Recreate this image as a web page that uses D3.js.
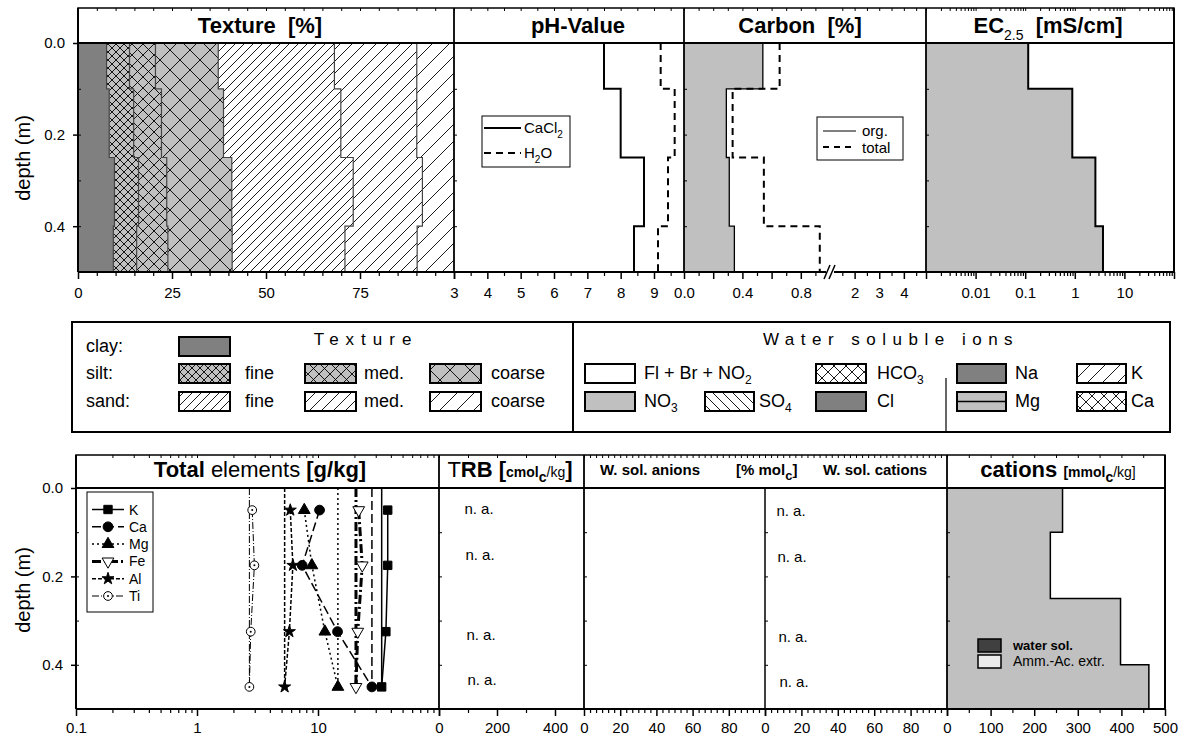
<!DOCTYPE html>
<html>
<head>
<meta charset="utf-8">
<script src="https://cdn.jsdelivr.net/npm/d3@7"></script>
<style>
  body { margin: 0; background: #fff; }
  svg { font-family: "Liberation Sans", Arial, sans-serif; }
  text { white-space: pre; }
</style>
</head>
<body>
<div id="chart"></div>
<script>
// ---- data ----
// soil layers (m)
const layerTops = [0, 0.1, 0.25, 0.4];
const layerBottoms = [0.1, 0.25, 0.4, 0.5];
const sampleDepths = [0.05, 0.175, 0.325, 0.45];

// texture (%) per layer
const textureKeys = ['clay', 'siltFine', 'siltMed', 'siltCoarse', 'sandFine', 'sandMed', 'sandCoarse'];
const clay = [7.6, 8.3, 9.7, 9.4];
const siltFine = [6.1, 6.5, 6.4, 6.2];
const siltMed = [6.9, 7.4, 7.5, 8.3];
const siltCoarse = [16.7, 16.5, 17.3, 17.1];
const sandFine = [30.9, 31.2, 32.3, 30.0];
const sandMed = [21.9, 20.2, 18.4, 19.2];
const sandCoarse = [9.9, 9.9, 8.4, 9.8];

// pH
const phCaCl2 = [7.5, 8.0, 8.7, 8.4];
const phH2O = [9.2, 9.62, 9.42, 9.12];

// carbon (%)
const carbonOrg = [0.54, 0.29, 0.31, 0.345];
const carbonTotal = [0.655, 0.333, 0.547, 0.93];

// EC 2.5 (mS/cm)
const ecValues = [0.115, 0.89, 2.6, 3.7];

// total elements (g/kg) at sample depths
const elementNames = ['K', 'Ca', 'Mg', 'Fe', 'Al', 'Ti'];
const elK = [37.7, 37.7, 36.4, 33.6];
const elCa = [10.3, 7.4, 14.5, 27.9];
const elMg = [7.7, 8.9, 11.4, 14.6];
const elFe = [21.7, 23.2, 21.3, 20.6];
const elAl = [5.9, 6.2, 5.8, 5.3];
const elTi = [2.86, 2.98, 2.78, 2.71];

// cations (mmolc/kg), ammonium acetate extract
const catAmmAc = [265, 237, 398, 463];

// "n. a." annotations (depth in m)
const naDepths = [0.048, 0.152, 0.333, 0.435];

// ---- setup ----
const width = 1183;
const height = 740;
const svg = d3.select('#chart').append('svg')
	.attr('width', width)
	.attr('height', height)
	.attr('viewBox', [0, 0, width, height]);
const defs = svg.append('defs');

function addPattern(id, size, bg, type) {
	const s = size;
	const p = defs.append('pattern')
		.attr('id', id)
		.attr('patternUnits', 'userSpaceOnUse')
		.attr('width', s)
		.attr('height', s);
	p.append('rect').attr('width', s).attr('height', s).attr('fill', bg);
	const up = `M${-s / 4},${s / 4}L${s / 4},${-s / 4}M0,${s}L${s},0M${(3 * s) / 4},${(5 * s) / 4}L${(5 * s) / 4},${(3 * s) / 4}`;
	const down = `M${-s / 4},${(3 * s) / 4}L${s / 4},${(5 * s) / 4}M0,0L${s},${s}M${(3 * s) / 4},${-s / 4}L${(5 * s) / 4},${s / 4}`;
	let d = '';
	if (type === 'up') d = up;
	else if (type === 'down') d = down;
	else d = up + down;
	p.append('path').attr('d', d).attr('stroke', '#000').attr('stroke-width', 0.9).attr('fill', 'none');
}
addPattern('siltFine', 8, '#c0c0c0', 'cross');
addPattern('siltMed', 11, '#c0c0c0', 'cross');
addPattern('siltCoarse', 20, '#c0c0c0', 'cross');
addPattern('sandFine', 9, '#fff', 'up');
addPattern('sandMed', 12, '#fff', 'up');
addPattern('sandCoarse', 17, '#fff', 'up');
addPattern('whiteCross', 12, '#fff', 'cross');
addPattern('whiteDown', 10, '#fff', 'down');
addPattern('whiteUp', 15, '#fff', 'up');

const texFill = {
	clay: '#808080',
	siltFine: 'url(#siltFine)',
	siltMed: 'url(#siltMed)',
	siltCoarse: 'url(#siltCoarse)',
	sandFine: 'url(#sandFine)',
	sandMed: 'url(#sandMed)',
	sandCoarse: 'url(#sandCoarse)',
};

function stepPoints(values) {
	return values.flatMap((v, i) => [
		{ v, depth: layerTops[i] },
		{ v, depth: layerBottoms[i] },
	]);
}

function logMinor(lo, hi) {
	const out = [];
	for (let e = lo; e < hi; e++) {
		for (let k = 2; k <= 9; k++) out.push(k * Math.pow(10, e));
	}
	return out;
}

// bottom axis with major + minor ticks, and small ticks mirrored on title top
function xAxis(scale, major, minor, fmt, yAxis, yTop, pad) {
	const gMin = svg.append('g').attr('transform', `translate(0,${yAxis})`)
		.call(d3.axisBottom(scale).tickValues(minor).tickSize(4).tickFormat(''));
	gMin.select('.domain').remove();
	const gMaj = svg.append('g').attr('transform', `translate(0,${yAxis})`)
		.call(d3.axisBottom(scale).tickValues(major).tickSize(7).tickPadding(pad).tickFormat(fmt));
	gMaj.select('.domain').remove();
	gMaj.attr('font-family', null).attr('font-size', 15);
	gMaj.selectAll('line').attr('stroke-width', 1.5);
	gMin.selectAll('line').attr('stroke-width', 1.2);
	const gTop = svg.append('g').attr('transform', `translate(0,${yTop})`)
		.call(d3.axisTop(scale).tickValues(major.concat(minor)).tickSize(-3).tickFormat(''));
	gTop.select('.domain').remove();
}

function depthAxis(sy, x0, panelEdges) {
	const g = svg.append('g').attr('transform', `translate(${x0},0)`)
		.call(d3.axisLeft(sy).tickValues([0, 0.2, 0.4]).tickSize(5).tickPadding(8).tickFormat(d3.format('.1f')));
	g.select('.domain').remove();
	g.attr('font-family', null).attr('font-size', 15);
	g.selectAll('line').attr('stroke-width', 1.5);
	panelEdges.forEach((x) => {
		const t = svg.append('g').attr('transform', `translate(${x},0)`)
			.call(d3.axisRight(sy).tickValues([0.1, 0.2, 0.3, 0.4]).tickSize(3).tickFormat(''));
		t.select('.domain').remove();
	});
}

function frameLine(x1, y1, x2, y2, w) {
	svg.append('line').attr('x1', x1).attr('y1', y1).attr('x2', x2).attr('y2', y2)
		.attr('stroke', '#000').attr('stroke-width', w || 2);
}

// ================= TOP ROW =================
const topY = d3.scaleLinear().domain([0, 0.5]).range([43, 272]);
const texX = d3.scaleLinear().domain([0, 100]).range([78, 454]);
const phX = d3.scaleLinear().domain([3, 9.9]).range([454, 684]);
const cX = d3.scaleLinear().domain([0, 1, 4.9]).range([684, 830, 926]);
const ecX = d3.scaleLog().domain([0.001, 100]).range([926, 1174]);

// texture
const texRows = layerTops.map((t, i) => ({
	top: t,
	bottom: layerBottoms[i],
	clay: clay[i],
	siltFine: siltFine[i],
	siltMed: siltMed[i],
	siltCoarse: siltCoarse[i],
	sandFine: sandFine[i],
	sandMed: sandMed[i],
	sandCoarse: sandCoarse[i],
}));
const texStack = d3.stack().keys(textureKeys)(texRows);
const texArea = d3.area()
	.y((p) => topY(p.depth))
	.x0((p) => texX(p.lo))
	.x1((p) => texX(p.hi));
const texPts = (s) => s.flatMap((d) => [
	{ depth: d.data.top, lo: d[0], hi: d[1] },
	{ depth: d.data.bottom, lo: d[0], hi: d[1] },
]);
svg.append('g').selectAll('path')
	.data(texStack)
	.join('path')
	.attr('d', (s) => texArea(texPts(s)))
	.attr('fill', (s) => texFill[s.key]);
svg.append('g').selectAll('path')
	.data(texStack.slice(0, -1))
	.join('path')
	.attr('d', (s) => d3.line().x((p) => texX(p.hi)).y((p) => topY(p.depth))(texPts(s)))
	.attr('fill', 'none')
	.attr('stroke', '#444')
	.attr('stroke-width', 1.2);

// pH
const phLine = d3.line().x((p) => phX(p.v)).y((p) => topY(p.depth));
svg.append('path').attr('d', phLine(stepPoints(phCaCl2)))
	.attr('fill', 'none').attr('stroke', '#000').attr('stroke-width', 2);
svg.append('path').attr('d', phLine(stepPoints(phH2O)))
	.attr('fill', 'none').attr('stroke', '#000').attr('stroke-width', 2).attr('stroke-dasharray', '7,5');

// carbon
const cArea = d3.area().y((p) => topY(p.depth)).x0(cX(0)).x1((p) => cX(p.v));
const cLine = d3.line().x((p) => cX(p.v)).y((p) => topY(p.depth));
svg.append('path').attr('d', cArea(stepPoints(carbonOrg))).attr('fill', '#c0c0c0');
svg.append('path').attr('d', cLine(stepPoints(carbonOrg)))
	.attr('fill', 'none').attr('stroke', '#000').attr('stroke-width', 1.3);
svg.append('path').attr('d', cLine(stepPoints(carbonTotal)))
	.attr('fill', 'none').attr('stroke', '#000').attr('stroke-width', 2).attr('stroke-dasharray', '7,5');

// EC
const ecArea = d3.area().y((p) => topY(p.depth)).x0(ecX(0.001)).x1((p) => ecX(p.v));
const ecLine = d3.line().x((p) => ecX(p.v)).y((p) => topY(p.depth));
svg.append('path').attr('d', ecArea(stepPoints(ecValues))).attr('fill', '#c0c0c0');
svg.append('path').attr('d', ecLine(stepPoints(ecValues)))
	.attr('fill', 'none').attr('stroke', '#000').attr('stroke-width', 2);

// top frames
svg.append('rect').attr('x', 78).attr('y', 8).attr('width', 1174 - 78).attr('height', 35)
	.attr('fill', '#fff').attr('stroke', '#000').attr('stroke-width', 1.5);
frameLine(78, 43, 1174, 43);
frameLine(78, 272, 1174, 272);
frameLine(78, 8, 78, 272);
frameLine(1174, 8, 1174, 272);
[454, 684, 926].forEach((x) => frameLine(x, 8, x, 272, 1.8));

// top axes
xAxis(texX, [0, 25, 50, 75, 100], d3.range(5, 100, 5).filter((d) => d % 25), (d) => (d === 100 ? '' : d), 272, 8, 8);
xAxis(phX, [3, 4, 5, 6, 7, 8, 9], d3.range(3.5, 9.6, 1), (d) => d, 272, 8, 8);
xAxis(cX, [0, 0.2, 0.4, 0.6, 0.8, 2, 3, 4], [0.1, 0.3, 0.5, 0.7, 0.9, 1.5, 2.5, 3.5, 4.5],
	(d) => ([0, 0.4, 0.8].includes(d) ? d3.format('.1f')(d) : d >= 2 ? d : ''), 272, 8, 8);
xAxis(ecX, [0.001, 0.01, 0.1, 1, 10, 100], logMinor(-3, 2),
	(d) => ([0.01, 0.1, 1, 10].includes(d) ? d : ''), 272, 8, 8);
depthAxis(topY, 78, [78, 454, 684, 926]);

// axis break on carbon
svg.append('rect').attr('x', 826).attr('y', 268).attr('width', 8).attr('height', 8).attr('fill', '#fff');
svg.append('path').attr('d', 'M824,279L830,265M829,279L835,265')
	.attr('stroke', '#000').attr('stroke-width', 1.5).attr('fill', 'none');

// top titles
const titleStyle = (t) => t.attr('font-size', 22).attr('font-weight', 'bold').attr('text-anchor', 'middle');
svg.append('text').attr('x', 260).attr('y', 33).call(titleStyle).text('Texture  [%]');
svg.append('text').attr('x', 578).attr('y', 33).call(titleStyle).text('pH-Value');
svg.append('text').attr('x', 800).attr('y', 33).call(titleStyle).text('Carbon  [%]');
const ecTitle = svg.append('text').attr('x', 1048).attr('y', 33).call(titleStyle);
ecTitle.append('tspan').text('EC');
ecTitle.append('tspan').attr('font-size', 14).attr('font-weight', 'normal').attr('dy', 7).text('2.5');
ecTitle.append('tspan').attr('dy', -7).text('  [mS/cm]');

svg.append('text')
	.attr('transform', 'translate(30,158) rotate(-90)')
	.attr('text-anchor', 'middle')
	.attr('font-size', 20)
	.text('depth (m)');

// pH legend
svg.append('rect').attr('x', 482).attr('y', 116).attr('width', 88).attr('height', 51)
	.attr('fill', '#fff').attr('stroke', '#000').attr('stroke-width', 1);
frameLine(484, 128, 521, 128, 2);
svg.append('line').attr('x1', 484).attr('y1', 153).attr('x2', 521).attr('y2', 153)
	.attr('stroke', '#000').attr('stroke-width', 2).attr('stroke-dasharray', '7,5');
const phL1 = svg.append('text').attr('x', 524).attr('y', 133).attr('font-size', 15);
phL1.append('tspan').text('CaCl');
phL1.append('tspan').attr('font-size', 10).attr('dy', 5).text('2');
const phL2 = svg.append('text').attr('x', 524).attr('y', 158).attr('font-size', 15);
phL2.append('tspan').text('H');
phL2.append('tspan').attr('font-size', 10).attr('dy', 5).text('2');
phL2.append('tspan').attr('dy', -5).text('O');

// carbon legend
svg.append('rect').attr('x', 817).attr('y', 117).attr('width', 86).attr('height', 43)
	.attr('fill', '#fff').attr('stroke', '#000').attr('stroke-width', 1);
frameLine(823, 131, 856, 131, 1);
svg.append('line').attr('x1', 823).attr('y1', 147).attr('x2', 856).attr('y2', 147)
	.attr('stroke', '#000').attr('stroke-width', 2).attr('stroke-dasharray', '6,5');
svg.append('text').attr('x', 862).attr('y', 136).attr('font-size', 15).text('org.');
svg.append('text').attr('x', 862).attr('y', 153).attr('font-size', 15).text('total');

// ================= LEGEND BOX =================
svg.append('rect').attr('x', 72).attr('y', 322).attr('width', 1170 - 72).attr('height', 110)
	.attr('fill', '#fff').attr('stroke', '#000').attr('stroke-width', 2);
frameLine(573, 322, 573, 432, 2);
frameLine(946, 378, 946, 432, 1.2);

function swatch(x, y, fill, w) {
	svg.append('rect').attr('x', x).attr('y', y).attr('width', w || 51).attr('height', 19)
		.attr('fill', fill).attr('stroke', '#000').attr('stroke-width', 2);
}
function legText(x, y, str, size) {
	return svg.append('text').attr('x', x).attr('y', y).attr('font-size', size || 18).text(str);
}
const rowY = [337, 364, 392];
svg.append('text').attr('x', 366).attr('y', 345).attr('font-size', 17).attr('letter-spacing', 7)
	.attr('text-anchor', 'middle').text('Texture');
legText(86, rowY[0] + 15, 'clay:');
legText(86, rowY[1] + 15, 'silt:');
legText(86, rowY[2] + 15, 'sand:');
swatch(179, rowY[0], texFill.clay);
swatch(179, rowY[1], texFill.siltFine);
swatch(305, rowY[1], texFill.siltMed);
swatch(430, rowY[1], texFill.siltCoarse);
swatch(179, rowY[2], texFill.sandFine);
swatch(305, rowY[2], texFill.sandMed);
swatch(430, rowY[2], texFill.sandCoarse);
['fine', 'med.', 'coarse'].forEach((s, i) => {
	legText([245, 364, 491][i], rowY[1] + 15, s);
	legText([245, 364, 491][i], rowY[2] + 15, s);
});

svg.append('text').attr('x', 891).attr('y', 345).attr('font-size', 17).attr('letter-spacing', 6.5)
	.attr('text-anchor', 'middle').text('Water soluble ions');
swatch(585, rowY[1], '#fff', 50);
const fl = legText(644, rowY[1] + 15, 'Fl + Br + NO');
fl.append('tspan').attr('font-size', 12).attr('dy', 5).text('2');
swatch(816, rowY[1], 'url(#whiteCross)', 50);
const hco = legText(877, rowY[1] + 15, 'HCO');
hco.append('tspan').attr('font-size', 12).attr('dy', 5).text('3');
swatch(585, rowY[2], '#c0c0c0', 50);
const no3 = legText(644, rowY[2] + 15, 'NO');
no3.append('tspan').attr('font-size', 12).attr('dy', 5).text('3');
swatch(705, rowY[2], 'url(#whiteDown)', 49);
const so4 = legText(759, rowY[2] + 15, 'SO');
so4.append('tspan').attr('font-size', 12).attr('dy', 5).text('4');
swatch(816, rowY[2], '#808080', 50);
legText(877, rowY[2] + 15, 'Cl');
swatch(957, rowY[1], '#808080', 49);
legText(1015, rowY[1] + 15, 'Na');
swatch(1077, rowY[1], 'url(#whiteUp)', 49);
legText(1131, rowY[1] + 15, 'K');
swatch(957, rowY[2], '#c0c0c0', 49);
frameLine(957, rowY[2] + 9.5, 1006, rowY[2] + 9.5, 1.5);
legText(1015, rowY[2] + 15, 'Mg');
swatch(1077, rowY[2], 'url(#whiteCross)', 49);
legText(1131, rowY[2] + 15, 'Ca');

// ================= BOTTOM ROW =================
const botY = d3.scaleLinear().domain([0, 0.5]).range([488, 709]);
const elX = d3.scaleLog().domain([0.1, 100]).range([76, 439]);
const trbX = d3.scaleLinear().domain([0, 500]).range([439, 584]);
const anX = d3.scaleLinear().domain([0, 100]).range([584, 765]);
const catPX = d3.scaleLinear().domain([0, 100]).range([765, 947]);
const catX = d3.scaleLinear().domain([0, 500]).range([947, 1165]);

// cations mmolc/kg
const catArea = d3.area().y((p) => botY(p.depth)).x0(catX(0)).x1((p) => catX(p.v));
const catLine = d3.line().x((p) => catX(p.v)).y((p) => botY(p.depth));
svg.append('path').attr('d', catArea(stepPoints(catAmmAc))).attr('fill', '#c0c0c0');
svg.append('path').attr('d', catLine(stepPoints(catAmmAc)))
	.attr('fill', 'none').attr('stroke', '#000').attr('stroke-width', 1.5);

// total elements
const elSeries = [
	{ name: 'K', values: elK, dash: null, w: 1.5, sym: d3.symbolSquare, size: 70, fill: '#000' },
	{ name: 'Ca', values: elCa, dash: '9,4', w: 1.5, sym: d3.symbolCircle, size: 75, fill: '#000' },
	{ name: 'Mg', values: elMg, dash: '2,3', w: 1.5, sym: d3.symbolTriangle, size: 60, fill: '#000' },
	{ name: 'Fe', values: elFe, dash: '9,3,2,3', w: 3, sym: d3.symbolTriangle, size: 60, fill: '#fff', rot: 180 },
	{ name: 'Al', values: elAl, dash: '4,2', w: 1.5, sym: d3.symbolStar, size: 45, fill: '#000' },
	{ name: 'Ti', values: elTi, dash: '7,2,1,2', w: 1, sym: d3.symbolCircle, size: 60, fill: '#fff', dot: true },
];
const elLine = d3.line().x((d) => elX(d[0])).y((d) => botY(d[1]));

function drawSymbol(g, s, x, y) {
	g.append('path')
		.attr('d', d3.symbol(s.sym, s.size)())
		.attr('transform', `translate(${x},${y}) rotate(${s.rot || 0})`)
		.attr('fill', s.fill)
		.attr('stroke', '#000')
		.attr('stroke-width', 1);
	if (s.dot) g.append('circle').attr('cx', x).attr('cy', y).attr('r', 1).attr('fill', '#000');
}

elSeries.forEach((s) => {
	const last = s.values[s.values.length - 1];
	const ref = svg.append('path')
		.attr('d', elLine([[last, 0], [last, sampleDepths[sampleDepths.length - 1]]]))
		.attr('fill', 'none').attr('stroke', '#000').attr('stroke-width', s.w);
	if (s.dash) ref.attr('stroke-dasharray', s.dash);
	const ln = svg.append('path')
		.attr('d', elLine(s.values.map((v, i) => [v, sampleDepths[i]])))
		.attr('fill', 'none').attr('stroke', '#000').attr('stroke-width', s.w);
	if (s.dash) ln.attr('stroke-dasharray', s.dash);
});
elSeries.forEach((s) => {
	const g = svg.append('g');
	s.values.forEach((v, i) => drawSymbol(g, s, elX(v), botY(sampleDepths[i])));
});

// elements legend
svg.append('rect').attr('x', 87).attr('y', 492).attr('width', 66).attr('height', 120)
	.attr('fill', '#fff').attr('stroke', '#000').attr('stroke-width', 1);
elSeries.forEach((s, i) => {
	const y = 509.5 + i * 17.3;
	const ln = svg.append('line').attr('x1', 92).attr('x2', 124).attr('y1', y).attr('y2', y)
		.attr('stroke', '#000').attr('stroke-width', s.w);
	if (s.dash) ln.attr('stroke-dasharray', s.dash);
	drawSymbol(svg.append('g'), s, 108, y);
	svg.append('text').attr('x', 129).attr('y', y + 5).attr('font-size', 14).text(s.name);
});

// n. a.
naDepths.forEach((d, i) => {
	svg.append('text').attr('x', 479 + i).attr('y', botY(d) + 5).attr('font-size', 15)
		.attr('text-anchor', 'middle').text('n. a.');
	svg.append('text').attr('x', 791 + i).attr('y', botY(d) + 7).attr('font-size', 15)
		.attr('text-anchor', 'middle').text('n. a.');
});

// cations legend
svg.append('rect').attr('x', 978).attr('y', 639).attr('width', 23).attr('height', 13)
	.attr('fill', '#404040').attr('stroke', '#000').attr('stroke-width', 1.5);
svg.append('rect').attr('x', 978).attr('y', 655).attr('width', 23).attr('height', 13)
	.attr('fill', '#ececec').attr('stroke', '#000').attr('stroke-width', 1.5);
svg.append('text').attr('x', 1013).attr('y', 650).attr('font-size', 13).attr('font-weight', 'bold').text('water sol.');
svg.append('text').attr('x', 1013).attr('y', 666).attr('font-size', 14).text('Amm.-Ac. extr.');

// bottom frames
svg.append('rect').attr('x', 76).attr('y', 455).attr('width', 1165 - 76).attr('height', 33)
	.attr('fill', '#fff').attr('stroke', '#000').attr('stroke-width', 1.5);
frameLine(76, 488, 1165, 488);
frameLine(76, 709, 1165, 709);
frameLine(76, 455, 76, 709);
frameLine(1165, 455, 1165, 709);
[439, 584, 947].forEach((x) => frameLine(x, 455, x, 709, 1.8));
frameLine(765, 488, 765, 709, 1.5);

// bottom axes
xAxis(elX, [0.1, 1, 10, 100], logMinor(-1, 2), (d) => (d === 100 ? '' : d), 709, 455, 6);
xAxis(trbX, [0, 200, 400], [100, 300], (d) => d, 709, 455, 6);
xAxis(anX, [0, 20, 40, 60, 80, 100], d3.range(0, 100, 10 / 3).filter((d) => Math.abs(d % 20) > 0.1),
	(d) => (d === 100 ? '' : d), 709, 455, 6);
xAxis(catPX, [0, 20, 40, 60, 80, 100], d3.range(0, 100, 10 / 3).filter((d) => Math.abs(d % 20) > 0.1),
	(d) => (d === 100 ? '' : d), 709, 455, 6);
xAxis(catX, [0, 100, 200, 300, 400, 500], [50, 150, 250, 350, 450], (d) => d, 709, 455, 6);
depthAxis(botY, 76, [76, 439, 584, 765, 947]);

svg.append('text')
	.attr('transform', 'translate(30,590) rotate(-90)')
	.attr('text-anchor', 'middle')
	.attr('font-size', 20)
	.text('depth (m)');

// bottom titles
const t1 = svg.append('text').attr('x', 260).attr('y', 477).attr('font-size', 22).attr('text-anchor', 'middle');
t1.append('tspan').attr('font-weight', 'bold').text('Total');
t1.append('tspan').text(' elements ');
t1.append('tspan').attr('font-weight', 'bold').text('[g/kg]');

const t2 = svg.append('text').attr('x', 510).attr('y', 477).attr('font-size', 22).attr('text-anchor', 'middle');
t2.append('tspan').text('T');
t2.append('tspan').attr('font-weight', 'bold').text('RB [');
t2.append('tspan').attr('font-size', 14).attr('font-weight', 'bold').text('cmol');
t2.append('tspan').attr('font-size', 14).attr('font-weight', 'bold').attr('dy', 5).text('c');
t2.append('tspan').attr('font-size', 14).attr('dy', -5).text('/kg');
t2.append('tspan').attr('font-weight', 'bold').text(']');

svg.append('text').attr('x', 600).attr('y', 475).attr('font-size', 15).attr('font-weight', 'bold').text('W. sol. anions');
const t3 = svg.append('text').attr('x', 736).attr('y', 475).attr('font-size', 15).attr('font-weight', 'bold');
t3.append('tspan').text('[% mol');
t3.append('tspan').attr('font-size', 13).attr('dy', 5).text('c');
t3.append('tspan').attr('dy', -5).text(']');
svg.append('text').attr('x', 823).attr('y', 475).attr('font-size', 15).attr('font-weight', 'bold').text('W. sol. cations');

const t4 = svg.append('text').attr('x', 1058).attr('y', 477).attr('font-size', 22).attr('text-anchor', 'middle');
t4.append('tspan').attr('font-weight', 'bold').text('cations ');
t4.append('tspan').attr('font-size', 14).attr('font-weight', 'bold').text('[mmol');
t4.append('tspan').attr('font-size', 14).attr('font-weight', 'bold').attr('dy', 5).text('c');
t4.append('tspan').attr('font-size', 14).attr('dy', -5).text('/kg]');
</script>
</body>
</html>
